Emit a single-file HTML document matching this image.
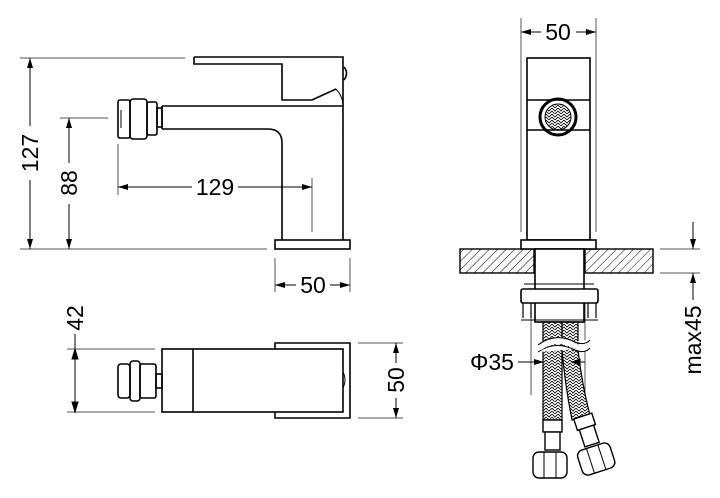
<!DOCTYPE html>
<html><head><meta charset="utf-8"><style>
html,body{margin:0;padding:0;background:#fff}
svg{display:block}
text{font-family:"Liberation Sans",Arial,sans-serif;font-size:23px;fill:#000}
</style></head><body>
<svg width="720" height="498" viewBox="0 0 720 498" xmlns="http://www.w3.org/2000/svg">
<defs>
<marker id="a" viewBox="0 0 10 6" refX="10" refY="3" markerWidth="10" markerHeight="6" orient="auto-start-reverse" markerUnits="userSpaceOnUse"><path d="M0,0 L10,3 L0,6 z" fill="#000"/></marker>
<pattern id="h" width="6" height="6" patternUnits="userSpaceOnUse" patternTransform="rotate(45)"><line x1="0" y1="0" x2="0" y2="6" stroke="#000" stroke-width="1"/></pattern>
<pattern id="br" width="6" height="6" patternUnits="userSpaceOnUse"><path d="M0,0 L3,3 L6,0 M0,3 L3,6 L6,3" stroke="#000" stroke-width="0.8" fill="none"/></pattern>
</defs>
<g fill="none" stroke="#000" stroke-width="1">
<line x1="20" y1="58" x2="185" y2="58" stroke="#555"/>
<line x1="20" y1="249" x2="267" y2="249" stroke="#555"/>
<line x1="30" y1="58" x2="30" y2="126" marker-start="url(#a)"/>
<line x1="30" y1="180" x2="30" y2="249" marker-end="url(#a)"/>
<line x1="60" y1="118" x2="108" y2="118" stroke="#555"/>
<line x1="69" y1="118" x2="69" y2="163" marker-start="url(#a)"/>
<line x1="69" y1="204" x2="69" y2="249" marker-end="url(#a)"/>
<line x1="118" y1="144" x2="118" y2="195" stroke="#555"/>
<line x1="312" y1="178" x2="312" y2="232" stroke="#555"/>
<line x1="118" y1="187" x2="192" y2="187" marker-start="url(#a)"/>
<line x1="238" y1="187" x2="312" y2="187" marker-end="url(#a)"/>
<line x1="275" y1="258" x2="275" y2="292" stroke="#555"/>
<line x1="350" y1="258" x2="350" y2="292" stroke="#555"/>
<line x1="275" y1="285" x2="296" y2="285" marker-start="url(#a)"/>
<line x1="330" y1="285" x2="350" y2="285" marker-end="url(#a)"/>
</g>
<g fill="none" stroke="#000" stroke-width="1.6">
<path d="M194,57 L343,57 L343,106 M194,57 L194,64 L282,64 L282,100 L312,100 L336,89"/>
<path d="M344,67 Q349,73 344,80"/>
<path d="M336,89 Q342,95 343,104" stroke-width="1"/>
<path d="M162,106 L343,106 L343,240 M162,129 L268,129 Q282,129 282,143 L282,240"/>
<line x1="162" y1="106" x2="162" y2="129"/>
<rect x="275" y="240" width="75" height="9"/>
<rect x="118" y="100" width="12" height="38" rx="2"/>
<rect x="130" y="99" width="17" height="40" rx="3"/>
<rect x="147" y="102" width="10" height="33" rx="2"/>
<rect x="157" y="108" width="5" height="19"/>
<line x1="121" y1="110" x2="121" y2="128" stroke-width="1"/>
</g>
<text x="30" y="153" text-anchor="middle" transform="rotate(-90 30 153)" dy="8">127</text>
<text x="69" y="183" text-anchor="middle" transform="rotate(-90 69 183)" dy="8">88</text>
<text x="215" y="195" text-anchor="middle">129</text>
<text x="313" y="293" text-anchor="middle">50</text>

<g fill="none" stroke="#000" stroke-width="1">
<line x1="67" y1="349" x2="155" y2="349" stroke="#555"/>
<line x1="67" y1="412" x2="155" y2="412" stroke="#555"/>
<line x1="75" y1="334" x2="75" y2="412" />
<path d="M75,349 L72,359 L78,359 z M75,412 L72,402 L78,402 z" fill="#000"/>
<line x1="358" y1="343" x2="403" y2="343" stroke="#555"/>
<line x1="358" y1="418" x2="403" y2="418" stroke="#555"/>
<line x1="396" y1="343" x2="396" y2="363" marker-start="url(#a)"/>
<line x1="396" y1="398" x2="396" y2="418" marker-end="url(#a)"/>
</g>
<g fill="none" stroke="#000" stroke-width="1.6">
<rect x="162" y="349" width="181" height="63"/>
<line x1="193" y1="349" x2="193" y2="412"/>
<path d="M275,349 L275,343 L350,343 L350,418 L275,418 L275,412"/>
<rect x="118" y="364" width="12" height="34" rx="3"/>
<rect x="130" y="361" width="10" height="40" rx="3"/>
<rect x="140" y="364" width="16" height="34" rx="2"/>
<rect x="156" y="374" width="6" height="14"/>
<path d="M343,372 Q347,380 343,388" stroke-width="1"/>
</g>
<text x="75" y="318" text-anchor="middle" transform="rotate(-90 75 318)" dy="8">42</text>
<text x="396" y="380" text-anchor="middle" transform="rotate(-90 396 380)" dy="8">50</text>

<g fill="none" stroke="#000" stroke-width="1">
<line x1="521" y1="18" x2="521" y2="232" stroke="#555"/>
<line x1="596" y1="18" x2="596" y2="232" stroke="#555"/>
<line x1="521" y1="32" x2="541" y2="32" marker-start="url(#a)"/>
<line x1="576" y1="32" x2="596" y2="32" marker-end="url(#a)"/>
<line x1="660" y1="249" x2="700" y2="249" stroke="#555"/>
<line x1="660" y1="273" x2="700" y2="273" stroke="#555"/>
<line x1="693" y1="222" x2="693" y2="249" marker-end="url(#a)"/>
<line x1="693" y1="273" x2="693" y2="300" marker-start="url(#a)"/>
<line x1="531" y1="295" x2="531" y2="395" stroke="#555"/>
<line x1="585" y1="295" x2="585" y2="395" stroke="#555"/>
<line x1="518" y1="362" x2="544" y2="362" marker-end="url(#a)"/>
<line x1="572" y1="362" x2="585" y2="362"/>
<path d="M572,362 L580,359 L580,365 z" fill="#000"/>
</g>
<rect x="460" y="249" width="74" height="24" fill="url(#h)" stroke="#000" stroke-width="1.4"/>
<rect x="585" y="249" width="68" height="24" fill="url(#h)" stroke="#000" stroke-width="1.4"/>
<g fill="none" stroke="#000" stroke-width="1.6">
<rect x="527" y="58" width="63" height="182"/>
<line x1="527" y1="100" x2="590" y2="100"/>
<line x1="527" y1="130" x2="590" y2="130"/>
<rect x="521" y="240" width="75" height="9" fill="#fff"/>
<rect x="535" y="249" width="49" height="73" fill="#fff"/>
<rect x="521" y="289" width="77" height="14" rx="2" fill="#fff"/>
<path d="M523,303 L523,318 M596,303 L596,318 M531,303 L531,318 M588,303 L588,318" stroke-width="1.2"/>
<line x1="521" y1="320" x2="598" y2="320" stroke-width="1"/>
<line x1="524" y1="284" x2="594" y2="284" stroke-width="1"/>
</g>
<circle cx="558" cy="117" r="18" fill="none" stroke="#000" stroke-width="3"/>
<circle cx="558" cy="117" r="13" fill="url(#br)" stroke="#000" stroke-width="1"/>
<rect x="543" y="322" width="19" height="98" fill="url(#br)" stroke="#000" stroke-width="1.2"/>
<path d="M562,322 L578,322 L578,350 Q582,385 590,415 L572,420 Q565,385 562,350 z" fill="url(#br)" stroke="#000" stroke-width="1.2"/>
<path d="M538,345 Q555,332 575,342 Q585,346 590,340 M538,352 Q555,340 575,350 Q585,354 590,348" fill="#fff" stroke="#000" stroke-width="1"/>
<path d="M540,348 Q555,336 575,346 Q585,350 588,344" fill="none" stroke="#fff" stroke-width="5"/>
<g fill="#fff" stroke="#000" stroke-width="1.4">
<rect x="543" y="420" width="19" height="12"/>
<rect x="545" y="432" width="15" height="18"/>
<rect x="533" y="452" width="34" height="26" rx="6"/>
<line x1="544" y1="452" x2="544" y2="478" stroke-width="1"/>
<line x1="556" y1="452" x2="556" y2="478" stroke-width="1"/>
<g transform="rotate(-18 590 440)">
<rect x="581" y="415" width="19" height="12"/>
<rect x="583" y="427" width="15" height="18"/>
<rect x="573" y="447" width="34" height="26" rx="6"/>
<line x1="584" y1="447" x2="584" y2="473" stroke-width="1"/>
<line x1="596" y1="447" x2="596" y2="473" stroke-width="1"/>
</g>
</g>
<text x="558" y="40" text-anchor="middle">50</text>
<text x="492" y="370" text-anchor="middle">Φ35</text>
<text x="693" y="340" text-anchor="middle" transform="rotate(-90 693 340)" dy="8">max45</text>
</svg>
</body></html>
